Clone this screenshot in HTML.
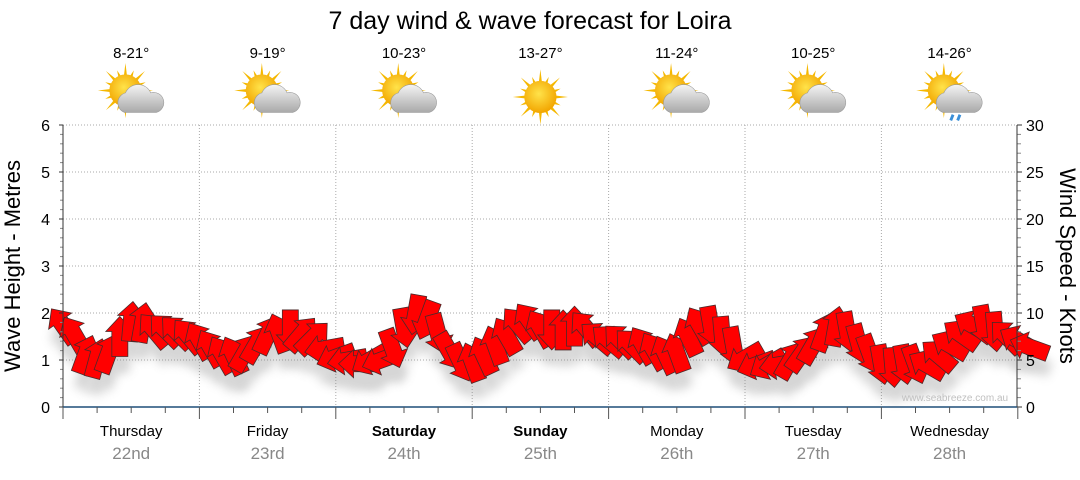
<!DOCTYPE html>
<html><head><meta charset="utf-8"><style>
body{margin:0;background:#fff;font-family:"Liberation Sans",sans-serif}
svg text{font-family:"Liberation Sans",sans-serif}
</style></head><body>
<svg id="c" width="1080" height="475">
<defs>
<filter id="sh" x="-50%" y="-50%" width="200%" height="200%"><feGaussianBlur stdDeviation="5"/></filter>
<radialGradient id="sun" cx="0.45" cy="0.4" r="0.6"><stop offset="0" stop-color="#ffe34a"/><stop offset="1" stop-color="#f2a500"/></radialGradient>
<linearGradient id="cl" x1="0" y1="0" x2="0" y2="1"><stop offset="0" stop-color="#f4f4f4"/><stop offset="1" stop-color="#a9a9a9"/></linearGradient>
</defs>
<text x="530" y="29" font-size="25" text-anchor="middle">7 day wind &amp; wave forecast for Loira</text>
<g id="grid"></g><g id="shadows" opacity="0.3"></g><g id="arrows"></g><g id="axes"></g><g id="days"></g>
<text x="955" y="401" font-size="10" fill="#c0c0c0" text-anchor="middle">www.seabreeze.com.au</text>
<text transform="translate(20,266) rotate(-90)" font-size="22" text-anchor="middle">Wave Height - Metres</text>
<text transform="translate(1060,266) rotate(90)" font-size="22" text-anchor="middle">Wind Speed - Knots</text>
</svg>
<script>
const dayNames=["Thursday","Friday","Saturday","Sunday","Monday","Tuesday","Wednesday"];
const dayDates=["22nd","23rd","24th","25th","26th","27th","28th"];
const temps=["8-21°","9-19°","10-23°","13-27°","11-24°","10-25°","14-26°"];
const icons=["partly","partly","partly","sun","partly","partly","rain"];
const bold=[false,false,true,true,false,false,false];
const metreTicks=[0,1,2,3,4,5,6];
const knotTicks=[0,5,10,15,20,25,30];
// wind speed (knots), every 2 hours
const windSpeed=[8.7,7.7,5.6,5.2,5.7,7.5,9.1,9.0,8.2,8.2,8.0,7.6,7.1,6.3,5.6,5.5,5.8,6.7,7.7,7.9,8.2,7.8,7.4,6.2,5.3,5.0,4.6,5.0,5.0,6.2,8.4,9.8,9.2,7.8,5.9,4.7,4.8,5.5,6.6,7.6,8.8,9.2,8.4,8.2,8.2,8.6,8.4,7.4,7.1,7.1,6.6,6.6,6.0,5.6,5.8,7.5,8.7,8.6,7.5,6.4,5.2,4.5,4.5,4.5,5.0,5.7,6.6,8.0,8.6,8.0,6.7,5.6,4.5,4.2,4.5,4.5,4.5,5.5,6.6,7.7,8.7,8.7,8.0,7.5,7.1,6.4];
// arrow heading (degrees, 0 = pointing up)
const windDir=[-35,-30,20,15,20,0,5,10,-40,-45,-45,-40,-30,-30,-30,-25,30,30,25,-20,180,40,45,-100,-110,-100,-90,-120,-110,160,170,190,200,165,150,155,-20,-25,-20,-30,-40,-35,-30,180,0,0,-40,-50,-50,-45,-45,-30,-30,-25,-20,-25,-30,170,175,170,-120,-110,-120,-100,30,35,30,20,10,170,165,160,170,175,170,160,-60,-50,-60,-55,-60,170,175,-45,-60,-70];
const X0=63,DW=136.4,Y0=407,PXM=47,STEP=DW/12;
const ym=m=>Y0-m*PXM, yk=k=>Y0-k*PXM/5, xt=i=>X0+STEP*i;
const NS="http://www.w3.org/2000/svg";
function mk(t,a,p){const e=document.createElementNS(NS,t);for(const k in a)e.setAttribute(k,a[k]);p.appendChild(e);return e;}
const grid=document.getElementById('grid'),axes=document.getElementById('axes'),days=document.getElementById('days');
metreTicks.forEach(m=>{if(m>0){const l=mk('line',{x1:X0,x2:1017,y1:ym(m),y2:ym(m),stroke:'#aaa','stroke-dasharray':'1,2'},grid);
}
const t=mk('text',{x:50,y:ym(m)+6,'font-size':16,'text-anchor':'end'},axes);t.textContent=m;

mk('line',{x1:X0-4,x2:X0,y1:ym(m),y2:ym(m),stroke:'#333'},axes);});
for(let i=0;i<30;i++){if(i%5){mk('line',{x1:X0-3,x2:X0,y1:ym(i/5),y2:ym(i/5),stroke:'#888'},axes);mk('line',{x1:1017,x2:1021,y1:ym(i/5),y2:ym(i/5),stroke:'#888'},axes);}}
knotTicks.forEach(k=>{const t=mk('text',{x:1026,y:yk(k)+6,'font-size':16},axes);t.textContent=k;

mk('line',{x1:1017,x2:1022,y1:yk(k),y2:yk(k),stroke:'#333'},axes);});
mk('line',{x1:X0,x2:X0,y1:125,y2:Y0,stroke:'#333'},axes);
mk('line',{x1:1017,x2:1017,y1:125,y2:Y0,stroke:'#333'},axes);
mk('line',{x1:X0,x2:1017,y1:Y0,y2:Y0,stroke:'#1f4e79','stroke-width':1.5},axes);
for(let i=0;i<=28;i++){const x=X0+i*DW/4;if(x>1018)break;mk('line',{x1:x,x2:x,y1:Y0,y2:Y0+(i%4?6:12),stroke:'#555'},axes);}
dayNames.forEach((d,i)=>{const cx=X0+DW*(i+0.5);
if(i>0){const l=mk('line',{x1:X0+DW*i,x2:X0+DW*i,y1:125,y2:Y0,stroke:'#aaa','stroke-dasharray':'1,2'},grid);}
const t=mk('text',{x:cx,y:436,'font-size':15,'text-anchor':'middle','font-weight':bold[i]?'bold':'normal'},days);t.textContent=d;

const t2=mk('text',{x:cx,y:459,'font-size':17,'text-anchor':'middle',fill:'#888'},days);t2.textContent=dayDates[i];

const t3=mk('text',{x:cx,y:58,'font-size':15,'text-anchor':'middle'},days);t3.textContent=temps[i];

const g=mk('g',{transform:`translate(${cx},${icons[i]=='sun'?97:94}) scale(1.15)`},days);

const sx=icons[i]=='sun'?0:-5,sy=icons[i]=='sun'?0:-3;
for(let a=0;a<16;a++){const r=a*Math.PI/8,L=a%2?19:24;mk('polygon',{points:`${sx+Math.cos(r-0.12)*12},${sy+Math.sin(r-0.12)*12} ${sx+Math.cos(r)*L},${sy+Math.sin(r)*L} ${sx+Math.cos(r+0.12)*12},${sy+Math.sin(r+0.12)*12}`,fill:'#f5b800'},g);}
mk('circle',{cx:sx,cy:sy,r:14,fill:'url(#sun)'},g);
if(icons[i]!='sun'){mk('path',{d:'M-6,16 a9,9 0 0 1 1,-17 a12,12 0 0 1 22,0 a8,8 0 0 1 5,17 z',fill:'url(#cl)',stroke:'#999','stroke-width':0.5},g);}
if(icons[i]=='rain'){mk('path',{d:'M3,18 l-2,5 M9,18 l-2,5',stroke:'#3a8fd8','stroke-width':2.5},g);}
});
const ar=document.getElementById('arrows'),sh=document.getElementById('shadows');
const shape='M0,-20 L14,-5 L8,-5 L8,20 L-8,20 L-8,-5 L-14,-5 Z';
windSpeed.forEach((k,i)=>{const x=xt(i),y=yk(k);
mk('path',{d:shape,transform:`translate(${x+2},${y+16}) rotate(${windDir[i]})`,fill:'#777',filter:'url(#sh)'},sh);
const p=mk('path',{d:shape,transform:`translate(${x},${y}) rotate(${windDir[i]})`,fill:'#ff0000',stroke:'#4a2a2a','stroke-width':0.8},ar);

});
</script>
</body></html>
